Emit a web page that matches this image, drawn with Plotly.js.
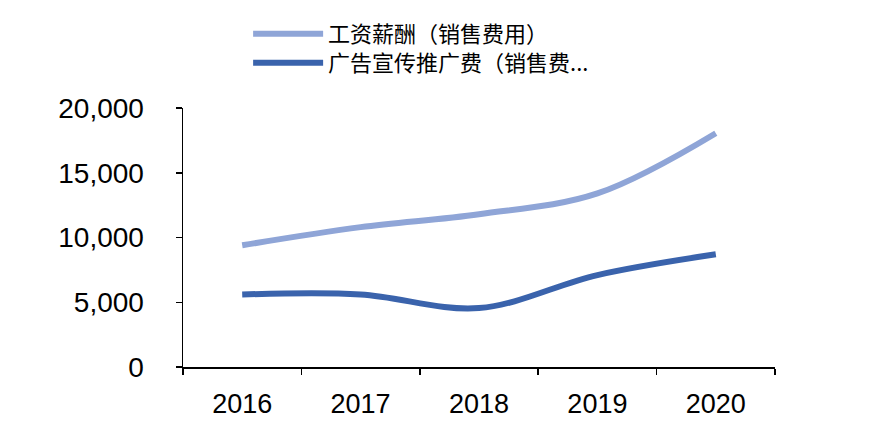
<!DOCTYPE html>
<html>
<head>
<meta charset="utf-8">
<script src="https://cdn.plot.ly/plotly-3.0.1.min.js"></script>
<style>
html,body{margin:0;padding:0;background:#fff;}
#chart{width:877px;height:436px;}
</style>
</head>
<body>
<div id="chart"></div>
<script>
const years = ["2016", "2017", "2018", "2019", "2020"];
const salaryName = "工资薪酬（销售费用）";
const salaryValues = [9400, 10800, 11800, 13400, 18050];
const adName = "广告宣传推广费（销售费...";
const adValues = [5600, 5600, 4550, 7100, 8700];
const yTicks = [0, 5000, 10000, 15000, 20000];
const yTickText = ["0", "5,000", "10,000", "15,000", "20,000"];

const traces = [
  {x: years, y: salaryValues, name: salaryName, type: "scatter", mode: "lines", legend: "legend",
   line: {color: "#8FA5D7", width: 6, shape: "spline", smoothing: 1}},
  {x: years, y: adValues, name: adName, type: "scatter", mode: "lines", legend: "legend2",
   line: {color: "#3A63AC", width: 6, shape: "spline", smoothing: 1}}
];

const legendFont = {family: "Noto Sans CJK TC, Noto Sans CJK SC, sans-serif", size: 22, color: "#000"};
const layout = {
  width: 877, height: 436,
  margin: {l: 183, r: 102, t: 108, b: 69},
  paper_bgcolor: "#fff", plot_bgcolor: "#fff",
  font: {family: "Liberation Sans, Arial, sans-serif", color: "#000"},
  showlegend: true,
  legend: {
    x: 0.11, y: 1 - 34 / 436, xref: "paper", yref: "container", xanchor: "left", yanchor: "middle",
    font: legendFont, itemwidth: 70, bgcolor: "rgba(0,0,0,0)"
  },
  legend2: {
    x: 0.11, y: 1 - 63 / 436, xref: "paper", yref: "container", xanchor: "left", yanchor: "middle",
    font: legendFont, itemwidth: 70, bgcolor: "rgba(0,0,0,0)"
  },
  xaxis: {
    type: "category", range: [-0.5, 4.5], tickson: "boundaries",
    ticks: "outside", ticklen: 6, tickwidth: 1.5, tickcolor: "#000",
    showline: true, linecolor: "#000", linewidth: 1.5, showgrid: false, zeroline: false,
    tickfont: {size: 27, color: "#000"}, ticklabelstandoff: 12
  },
  yaxis: {
    range: [0, 20000], tickvals: yTicks, ticktext: yTickText,
    ticks: "outside", ticklen: 6, tickwidth: 1.5, tickcolor: "#000",
    showline: true, linecolor: "#000", linewidth: 1.5, showgrid: false, zeroline: false,
    tickfont: {size: 28, color: "#000"}, ticklabelstandoff: 26
  }
};

Plotly.newPlot("chart", traces, layout, {displayModeBar: false, staticPlot: true});
</script>
</body>
</html>
